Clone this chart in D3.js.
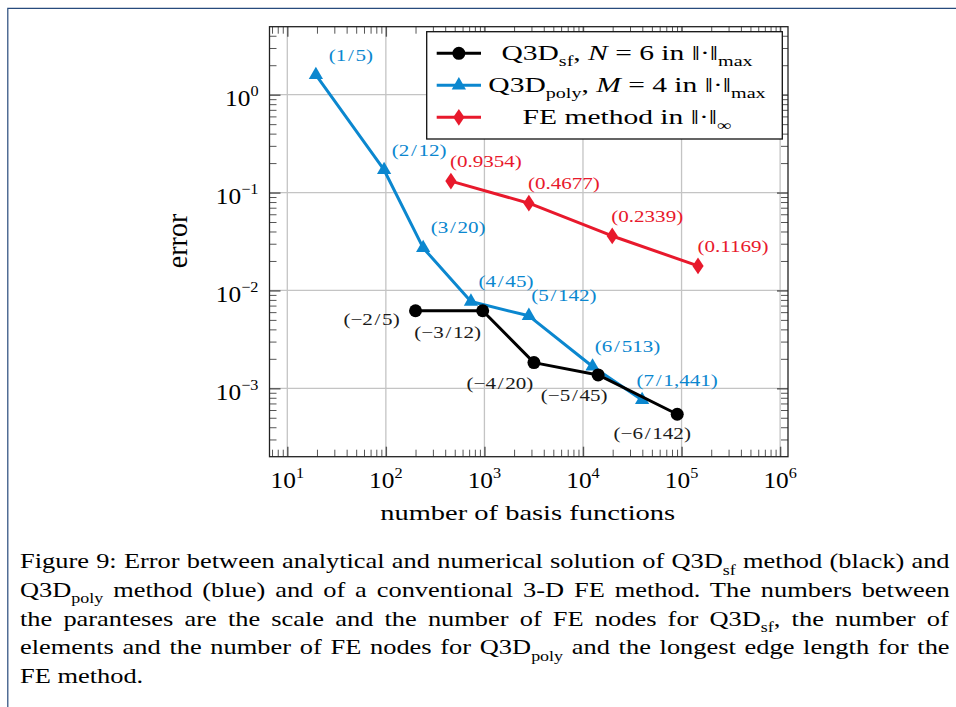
<!DOCTYPE html>
<html><head><meta charset="utf-8">
<script src="https://cdn.jsdelivr.net/npm/d3@7"></script>
<style>html,body{margin:0;padding:0;background:#fff}text{white-space:pre}</style>
</head><body><svg id="chart" width="956" height="707"></svg>
<script>
// ---------------- data ----------------
const sfX = [200, 960, 3180, 14250, 90400];
const sfY = [0.0062, 0.0062, 0.00183, 0.00137, 0.000543];
const sfLabels = ["(\u22122/5)", "(\u22123/12)", "(\u22124/20)", "(\u22125/45)", "(\u22126/142)"];

const polyX = [19.5, 96, 239, 730, 2825, 12500, 39800];
const polyY = [1.59, 0.170, 0.0272, 0.0077, 0.0055, 0.00167, 0.00076];
const polyLabels = ["(1/5)", "(2/12)", "(3/20)", "(4/45)", "(5/142)", "(6/513)", "(7/1,441)"];

const feX = [457, 2825, 19800, 146900];
const feY = [0.131, 0.0778, 0.036, 0.0178];
const feLabels = ["(0.9354)", "(0.4677)", "(0.2339)", "(0.1169)"];

const xTickExps = [1, 2, 3, 4, 5, 6];
const yTickExps = [-3, -2, -1, 0];

const legendTexts = [
  "Q3D_{sf}, $N$ = 6 in \u2016\u00b7\u2016_{max}",
  "Q3D_{poly}, $M$ = 4 in \u2016\u00b7\u2016_{max}",
  "FE method in \u2016\u00b7\u2016_{\u221e}"
];
const xTitle = "number of basis functions";
const yTitle = "error";
const captionLines = [
  "Figure 9: Error between analytical and numerical solution of Q3D_{sf} method (black) and",
  "Q3D_{poly} method (blue) and of a conventional 3-D FE method. The numbers between",
  "the paranteses are the scale and the number of FE nodes for Q3D_{sf}, the number of",
  "elements and the number of FE nodes for Q3D_{poly} and the longest edge length for the",
  "FE method."
];

// ---------------- layout / style ----------------
const FONT = "'Liberation Serif','Times New Roman',serif";
const COL = {sf: "#000000", poly: "#0b87cf", fe: "#e8192c"};
const plot = {left: 269.5, right: 788, top: 26.7, bottom: 456.7};
// label offsets (label centre relative to marker)
const sfLabelOff = [[-44, 9], [-35, 22], [-34, 21], [-24, 20], [-25, 19]];
const polyLabelOff = [35, -20];
const feLabelOff = [35, -20];

const svg = d3.select("#chart");
svg.append("rect").attr("width", 956).attr("height", 707).attr("fill", "#fff");
svg.append("path").attr("d", "M7.8,707 V8.3 H956").attr("fill", "none")
  .attr("stroke", "#274a7c").attr("stroke-width", 1.2);

const x = d3.scaleLog().domain([10 ** 0.8195, 10 ** 6.08]).range([plot.left, plot.right]);
const y = d3.scaleLog().domain([10 ** -3.699, 10 ** 0.6946]).range([plot.bottom, plot.top]);

const isPow = v => Math.abs(Math.log10(v) - Math.round(Math.log10(v))) < 1e-9;
const xMajor = xTickExps.map(e => 10 ** e);
const yMajor = yTickExps.map(e => 10 ** e);
const xMinor = x.ticks().filter(v => !isPow(v) && Math.abs(x(v) - plot.left) > 1 && Math.abs(x(v) - plot.right) > 1);
const yMinor = y.ticks().filter(v => !isPow(v) && Math.abs(y(v) - plot.bottom) > 1 && Math.abs(y(v) - plot.top) > 1);

// ---------------- text helpers ----------------
function parseSegs(str) {
  const parts = str.split(/(_\{[^}]*\}|\^\{[^}]*\}|\$[^$]*\$)/).filter(s => s.length);
  return parts.map(p => {
    if (p.startsWith("_{")) return {t: p.slice(2, -1), sub: true};
    if (p.startsWith("^{")) return {t: p.slice(2, -1), sup: true};
    if (p.startsWith("$")) return {t: p.slice(1, -1), it: true};
    return {t: p};
  });
}
function buildSegs(t, segs, base) {
  let shift = 0;
  segs.forEach(s => {
    const ts = t.append("tspan").text(s.t);
    let target = 0;
    if (s.sub) target = base * 0.3;
    else if (s.sup) target = -base * 0.43;
    if (s.sub || s.sup) ts.attr("font-size", base * (s.scale || 0.68));
    if (s.it) ts.attr("font-style", "italic");
    if (s.dx) ts.attr("dx", s.dx);
    if (target !== shift) { ts.attr("dy", target - shift); shift = target; }
  });
}
function addText(parent, o) {
  const g = parent.append("g");
  const t = g.append("text").attr("font-family", FONT).attr("font-size", o.size)
    .attr("text-anchor", o.anchor || "start").attr("fill", o.fill || "#000");
  buildSegs(t, o.segs, o.size);
  let k = o.k || 1;
  if (o.target) k = o.target / t.node().getBBox().width;
  g.attr("transform", `translate(${o.x},${o.y})` + (o.rotate ? ` rotate(${o.rotate})` : "") + ` scale(${k},${o.ky || 1})`);
  return {g, t, k};
}
function labelSegs(str) {
  const out = [];
  str.split("/").forEach((p, i) => {
    if (i > 0) { out.push({t: "/", dx: 1.4}); out.push({t: p, dx: 1.4}); }
    else out.push({t: p});
  });
  return out;
}
function measureK(size, segs, target) {
  const t = svg.append("text").attr("font-family", FONT).attr("font-size", size);
  buildSegs(t, segs, size);
  const w = t.node().getBBox().width; t.remove();
  return target / w;
}

// ---------------- grid ----------------
const gGrid = svg.append("g").attr("stroke", "#c4c4c4").attr("stroke-width", 1.3);
gGrid.selectAll("line.gx").data(xMajor).join("line").attr("class", "gx")
  .attr("x1", d => x(d)).attr("x2", d => x(d)).attr("y1", plot.top).attr("y2", plot.bottom);
gGrid.selectAll("line.gy").data(yMajor).join("line").attr("class", "gy")
  .attr("y1", d => y(d)).attr("y2", d => y(d)).attr("x1", plot.left).attr("x2", plot.right);

// ---------------- ticks via d3 axes ----------------
function tickAxis(axis, tr, vals, len, w, col) {
  svg.append("g").attr("transform", tr)
    .call(axis.tickValues(vals).tickSize(-len).tickFormat(""))
    .call(g => { g.select(".domain").remove(); g.selectAll("line").attr("stroke", col).attr("stroke-width", w); });
}
tickAxis(d3.axisBottom(x), `translate(0,${plot.bottom})`, xMinor, 7, 1, "#555");
tickAxis(d3.axisTop(x), `translate(0,${plot.top})`, xMinor, 7, 1, "#555");
tickAxis(d3.axisLeft(y), `translate(${plot.left},0)`, yMinor, 7, 1, "#555");
tickAxis(d3.axisRight(y), `translate(${plot.right},0)`, yMinor, 7, 1, "#555");
tickAxis(d3.axisBottom(x), `translate(0,${plot.bottom})`, xMajor, 10, 1.4, "#555");
tickAxis(d3.axisTop(x), `translate(0,${plot.top})`, xMajor, 10, 1.4, "#555");
tickAxis(d3.axisLeft(y), `translate(${plot.left},0)`, yMajor, 11, 1.4, "#555");
tickAxis(d3.axisRight(y), `translate(${plot.right},0)`, yMajor, 11, 1.4, "#555");

// ---------------- series ----------------
const series = [
  {key: "poly", xs: polyX, ys: polyY, labels: polyLabels, shape: "tri"},
  {key: "fe", xs: feX, ys: feY, labels: feLabels, shape: "dia"},
  {key: "sf", xs: sfX, ys: sfY, labels: sfLabels, shape: "circ"}
];
const diamond = {draw(ctx, size) { const h = 8.4, w = 5.6; ctx.moveTo(0, -h); ctx.lineTo(w, 0); ctx.lineTo(0, h); ctx.lineTo(-w, 0); ctx.closePath(); }};
const symbolOf = s => s === "tri" ? d3.symbol(d3.symbolTriangle, 88)
  : s === "dia" ? d3.symbol(diamond, 1) : d3.symbol(d3.symbolCircle, Math.PI * 6.5 * 6.5);

const line = d3.line().x(d => x(d[0])).y(d => y(d[1]));
series.forEach(s => {
  const pts = s.xs.map((v, i) => [v, s.ys[i]]);
  svg.append("path").attr("d", line(pts)).attr("fill", "none").attr("stroke", COL[s.key])
    .attr("stroke-width", 3).attr("stroke-linejoin", "round");
  svg.append("g").selectAll("path").data(pts).join("path")
    .attr("transform", d => `translate(${x(d[0])},${y(d[1])})`)
    .attr("d", symbolOf(s.shape)()).attr("fill", COL[s.key]);
});

// ---------------- point labels ----------------
const LBL = 17;
const kLbl = measureK(LBL, [{t: "(0.9354)"}], 72);
series.forEach(s => {
  s.labels.forEach((lab, i) => {
    const off = s.key === "sf" ? sfLabelOff[i] : (s.key === "poly" ? polyLabelOff : feLabelOff);
    addText(svg, {x: x(s.xs[i]) + off[0], y: y(s.ys[i]) + off[1] + 5.6, size: LBL, anchor: "middle",
      fill: s.key === "sf" ? "#1a1a1a" : COL[s.key], segs: labelSegs(lab), k: kLbl});
  });
});

// ---------------- axis box ----------------
svg.append("rect").attr("x", plot.left).attr("y", plot.top)
  .attr("width", plot.right - plot.left).attr("height", plot.bottom - plot.top)
  .attr("fill", "none").attr("stroke", "#222").attr("stroke-width", 1.3);

// ---------------- tick labels ----------------
const TK = 23.5;
xTickExps.forEach(e => {
  addText(svg, {x: x(10 ** e), y: 488, size: TK, anchor: "middle", k: 1.08,
    segs: [{t: "10"}, {t: String(e), sup: true, scale: 0.64}]});
});
yTickExps.forEach(e => {
  addText(svg, {x: 258.5, y: y(10 ** e) + 11.5, size: TK, anchor: "end", k: 1.08,
    segs: [{t: "10"}, {t: (e < 0 ? "\u2212" + (-e) : String(e)), sup: true, scale: 0.64}]});
});

// ---------------- axis titles ----------------
addText(svg, {x: 527.7, y: 520, size: 21.5, anchor: "middle", segs: [{t: xTitle}], target: 295});
addText(svg, {x: 187.3, y: 241, size: 23, anchor: "middle", rotate: -90, ky: 1.3, segs: [{t: yTitle}], target: 55});

// ---------------- legend ----------------
const leg = {x0: 426.7, y0: 31.7, x1: 782.3, y1: 139, rows: [53.3, 85.3, 117.3], lx0: 436.7, lx1: 481, tx: 627};
svg.append("rect").attr("x", leg.x0).attr("y", leg.y0).attr("width", leg.x1 - leg.x0).attr("height", leg.y1 - leg.y0)
  .attr("fill", "#fff").attr("stroke", "#111").attr("stroke-width", 1.3);
const legOrder = ["sf", "poly", "fe"];
const legShape = {sf: "circ", poly: "tri", fe: "dia"};
const LG = 20.5;
const kLeg = measureK(LG, parseSegs(legendTexts[2]), 209);
legOrder.forEach((key, i) => {
  const yy = leg.rows[i];
  svg.append("line").attr("x1", leg.lx0).attr("x2", leg.lx1).attr("y1", yy).attr("y2", yy)
    .attr("stroke", COL[key]).attr("stroke-width", 3);
  svg.append("path").attr("transform", `translate(${(leg.lx0 + leg.lx1) / 2},${yy})`)
    .attr("d", symbolOf(legShape[key])()).attr("fill", COL[key]);
  addText(svg, {x: leg.tx, y: yy + 6.5, size: LG, anchor: "middle", segs: parseSegs(legendTexts[i]), k: kLeg});
});

// ---------------- caption ----------------
const CP = 22, capLeft = 20, capWidth = 930, capBase = 568, capStep = 28.75;
const capNat = captionLines.map(l => {
  const t = svg.append("text").attr("font-family", FONT).attr("font-size", CP);
  buildSegs(t, parseSegs(l), CP);
  const w = t.node().getBBox().width; t.remove(); return w;
});
const kCap = 0.992 * capWidth / d3.max(capNat.slice(0, 4));
captionLines.forEach((l, i) => {
  const r = addText(svg, {x: capLeft, y: capBase + i * capStep, size: CP, anchor: "start", segs: parseSegs(l), k: kCap});
  if (i < captionLines.length - 1) {
    const nSp = (l.match(/ /g) || []).length;
    const extra = (capWidth / kCap - capNat[i]) / nSp;
    r.t.style("word-spacing", extra + "px");
  }
});
</script>
</body></html>
